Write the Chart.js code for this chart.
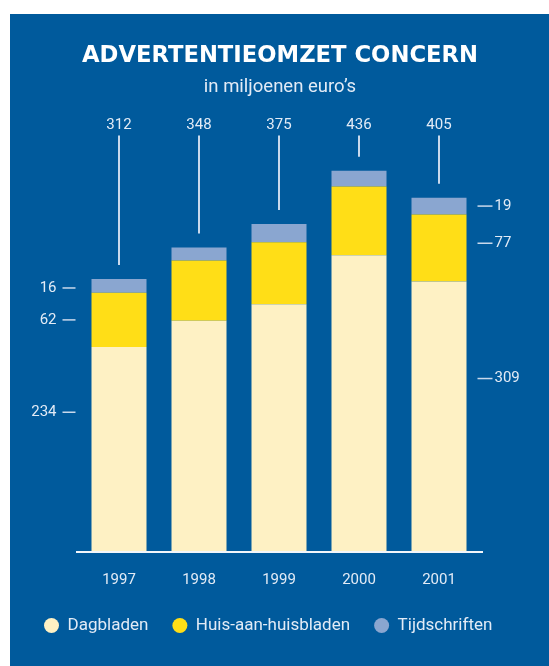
<!DOCTYPE html>
<html>
<head>
<meta charset="utf-8">
<script src="https://cdn.jsdelivr.net/npm/chart.js@4.4.1/dist/chart.umd.min.js"></script>
<style>
  body { margin: 0; background: #fff; }
  #paneel { position: absolute; left: 10px; top: 14px; width: 539px; height: 652px; background: #005a9c; }
</style>
</head>
<body>
<div id="paneel"><canvas id="grafico" width="539" height="652"></canvas></div>
<script>
var jaren = ['1997', '1998', '1999', '2000', '2001'];
var dagbladen = [234, 264, 283, 339, 309];
var huisAanHuis = [62, 69, 71, 79, 77];
var tijdschriften = [16, 15, 21, 18, 19];
var totalen = [312, 348, 375, 436, 405];

var tekstKleur = '#e2ebf6';

// totalen boven de staven, waarden links van 1997 en rechts van 2001
var etiketten = {
  id: 'etiketten',
  afterDatasetsDraw: function(chart) {
    var ctx = chart.ctx;
    var area = chart.chartArea;
    var y = chart.scales.y;
    var reeksen = [dagbladen, huisAanHuis, tijdschriften];
    ctx.save();

    // basislijn
    ctx.strokeStyle = '#f2f6fb';
    ctx.lineWidth = 2;
    ctx.beginPath();
    ctx.moveTo(area.left - 3, area.bottom + 1);
    ctx.lineTo(area.right + 4, area.bottom + 1);
    ctx.stroke();

    ctx.font = '15px Roboto';
    ctx.fillStyle = tekstKleur;
    ctx.strokeStyle = '#c9d9ec';
    ctx.textBaseline = 'middle';

    var meta = chart.getDatasetMeta(0);
    for (var i = 0; i < totalen.length; i++) {
      var x = meta.data[i].x;
      ctx.textAlign = 'center';
      ctx.fillText(totalen[i], x, area.top - 7);
      ctx.lineWidth = 2;
      ctx.beginPath();
      ctx.moveTo(x, area.top + 3);
      ctx.lineTo(x, y.getPixelForValue(totalen[i]) - 14);
      ctx.stroke();
    }

    var links = [0.68, 0.5, 0.35];
    var rechts = [0.64, 0.57, 0.5];
    var eerste = meta.data[0];
    var laatste = meta.data[meta.data.length - 1];
    var n = totalen.length - 1;
    var basis0 = 0, basisN = 0;
    ctx.lineWidth = 1.5;
    for (var d = 0; d < reeksen.length; d++) {
      var v0 = reeksen[d][0];
      var vN = reeksen[d][n];
      var y0 = y.getPixelForValue(basis0 + v0 * links[d]);
      var yN = y.getPixelForValue(basisN + vN * rechts[d]);
      var l = eerste.x - eerste.width / 2;
      var r = laatste.x + laatste.width / 2;

      ctx.textAlign = 'right';
      ctx.fillText(v0, l - 35, y0);
      ctx.beginPath();
      ctx.moveTo(l - 29, y0);
      ctx.lineTo(l - 16, y0);
      ctx.stroke();

      ctx.textAlign = 'left';
      ctx.fillText(vN, r + 28, yN);
      ctx.beginPath();
      ctx.moveTo(r + 11, yN);
      ctx.lineTo(r + 26, yN);
      ctx.stroke();

      basis0 += v0;
      basisN += vN;
    }
    ctx.restore();
  }
};

var ctx = document.getElementById('grafico').getContext('2d');
var grafico = new Chart(ctx, {
  type: 'bar',
  data: {
    labels: jaren,
    datasets: [
      { label: 'Dagbladen', data: dagbladen, backgroundColor: '#fef1c4' },
      { label: 'Huis-aan-huisbladen', data: huisAanHuis, backgroundColor: '#ffde17' },
      { label: 'Tijdschriften', data: tijdschriften, backgroundColor: '#8aa6d0' }
    ]
  },
  options: {
    responsive: false,
    animation: false,
    layout: { padding: { left: 10, right: 9, top: 0, bottom: 22 } },
    datasets: { bar: { barPercentage: 0.6875, categoryPercentage: 1 } },
    scales: {
      x: {
        stacked: true,
        grid: { display: false, drawTicks: false, tickLength: 0 },
        border: { display: false },
        ticks: { color: tekstKleur, font: { family: 'Roboto', size: 15 }, padding: 20 },
        afterFit: function(s) { s.height = 42; }
      },
      y: {
        stacked: true,
        min: 0,
        max: 480,
        grid: { display: false, drawTicks: false },
        border: { display: false },
        ticks: { display: false },
        afterFit: function(s) { s.width = 59; }
      },
      y2: {
        position: 'right',
        grid: { display: false, drawTicks: false },
        border: { display: false },
        ticks: { display: false },
        afterFit: function(s) { s.width = 61; }
      }
    },
    plugins: {
      title: {
        display: true,
        text: 'ADVERTENTIEOMZET CONCERN',
        color: '#ffffff',
        font: { family: 'DejaVu Sans', weight: 'bold', size: 22.7 },
        padding: { top: 28, bottom: 6 }
      },
      subtitle: {
        display: true,
        text: 'in miljoenen euro\u2019s',
        color: tekstKleur,
        font: { family: 'Roboto', size: 18.5 },
        padding: { top: 1, bottom: 33.96 }
      },
      legend: {
        position: 'bottom',
        align: 'start',
        labels: {
          usePointStyle: true,
          pointStyle: 'circle',
          pointStyleWidth: 15,
          boxHeight: 10.5,
          padding: 24,
          color: tekstKleur,
          font: { family: 'Roboto', size: 17 }
        }
      },
      tooltip: { enabled: false }
    }
  },
  plugins: [etiketten]
});
</script>
</body>
</html>
